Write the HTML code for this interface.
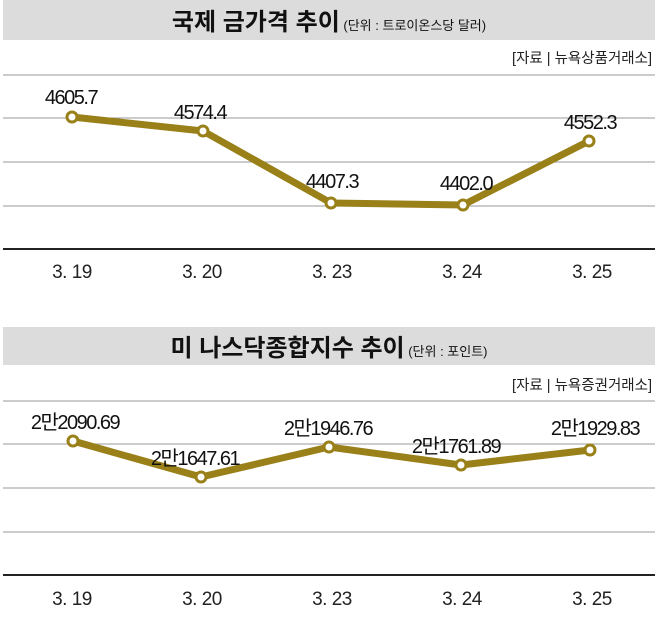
<!DOCTYPE html>
<html><head><meta charset="utf-8"><style>
body{margin:0;background:#fff;width:658px;height:622px;overflow:hidden}
svg text{font-family:"Liberation Sans","Noto Sans CJK KR",sans-serif}
</style></head><body>
<svg width="658" height="622" viewBox="0 0 658 622" xmlns="http://www.w3.org/2000/svg">
<rect x="3" y="0" width="652" height="40" fill="#dcdcdc"/>
<text x="329" y="30" text-anchor="middle" font-size="24" font-weight="bold" fill="#111">국제 금가격 추이<tspan font-size="13" font-weight="normal"> (단위 : 트로이온스당 달러)</tspan></text>
<text x="652" y="63" text-anchor="end" font-size="14.5" fill="#222">[자료 | 뉴욕상품거래소]</text>
<g stroke="#999" stroke-width="1">
<line x1="3" y1="75" x2="655" y2="75"/><line x1="3" y1="118" x2="655" y2="118"/><line x1="3" y1="162" x2="655" y2="162"/><line x1="3" y1="206" x2="655" y2="206"/>
</g>
<line x1="3" y1="249" x2="655" y2="249" stroke="#222" stroke-width="2"/>
<polyline points="72,117 203,131 331,203 463,205 589,141" fill="none" stroke="#998019" stroke-width="7" stroke-linejoin="round"/>
<g fill="#fff" stroke="#998019" stroke-width="3">
<circle cx="72" cy="117" r="5"/><circle cx="203" cy="131" r="5"/><circle cx="331" cy="203" r="5"/><circle cx="463" cy="205" r="5"/><circle cx="589" cy="141" r="5"/>
</g>
<g font-size="20" fill="#111" text-anchor="middle" letter-spacing="-1.5">
<text x="71" y="104">4605.7</text><text x="200" y="119">4574.4</text><text x="332" y="188">4407.3</text><text x="466" y="190">4402.0</text><text x="590" y="129">4552.3</text>
</g>
<g font-size="19" fill="#222" text-anchor="middle" letter-spacing="-0.5">
<text x="72" y="278">3. 19</text><text x="202" y="278">3. 20</text><text x="332" y="278">3. 23</text><text x="462" y="278">3. 24</text><text x="592" y="278">3. 25</text>
</g>

<rect x="3" y="327" width="652" height="38" fill="#dcdcdc"/>
<text x="329" y="356" text-anchor="middle" font-size="24" font-weight="bold" fill="#111">미 나스닥종합지수 추이<tspan font-size="13" font-weight="normal"> (단위 : 포인트)</tspan></text>
<text x="652" y="390" text-anchor="end" font-size="14.5" fill="#222">[자료 | 뉴욕증권거래소]</text>
<g stroke="#999" stroke-width="1">
<line x1="3" y1="401" x2="655" y2="401"/><line x1="3" y1="444" x2="655" y2="444"/><line x1="3" y1="488" x2="655" y2="488"/><line x1="3" y1="532" x2="655" y2="532"/>
</g>
<line x1="3" y1="575" x2="655" y2="575" stroke="#222" stroke-width="2"/>
<polyline points="73,441 201,477 329,447 461,465 590,450" fill="none" stroke="#998019" stroke-width="7" stroke-linejoin="round"/>
<g fill="#fff" stroke="#998019" stroke-width="3">
<circle cx="73" cy="441" r="5"/><circle cx="201" cy="477" r="5"/><circle cx="329" cy="447" r="5"/><circle cx="461" cy="465" r="5"/><circle cx="590" cy="450" r="5"/>
</g>
<g font-size="20" fill="#111" text-anchor="middle" letter-spacing="-1.5">
<text x="75" y="429">2만2090.69</text><text x="195" y="465">2만1647.61</text><text x="328" y="435">2만1946.76</text><text x="456" y="453">2만1761.89</text><text x="595" y="435">2만1929.83</text>
</g>
<g font-size="19" fill="#222" text-anchor="middle" letter-spacing="-0.5">
<text x="72" y="605">3. 19</text><text x="202" y="605">3. 20</text><text x="332" y="605">3. 23</text><text x="462" y="605">3. 24</text><text x="592" y="605">3. 25</text>
</g>
</svg>
</body></html>
